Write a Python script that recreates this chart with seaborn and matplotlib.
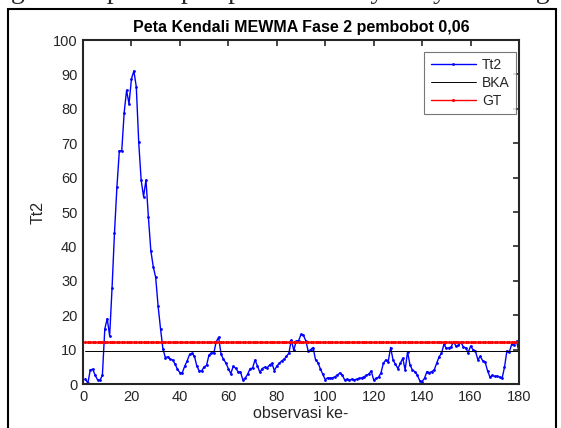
import numpy as np
import pandas as pd
import matplotlib
matplotlib.use("Agg")
import matplotlib.pyplot as plt
import seaborn as sns
from matplotlib.patches import Rectangle

# ---- data ----
obs = list(range(1, 181))
tt2 = [1.5, 0.2, 4.1, 4.3, 2.6, 1.2, 1.1, 2.5, 16.0, 19.0,
       14.0, 28.0, 44.0, 57.2, 67.8, 67.8, 78.9, 85.4, 81.4, 88.7,
       91.0, 86.4, 70.3, 59.3, 54.5, 59.3, 48.5, 38.8, 34.1, 31.0,
       22.7, 16.1, 10.2, 7.7, 7.9, 7.2, 7.0, 5.8, 4.3, 3.3,
       3.3, 5.2, 6.7, 8.6, 8.9, 8.1, 5.2, 3.8, 3.8, 5.0,
       5.4, 8.4, 9.0, 9.0, 12.3, 13.6, 8.6, 7.2, 6.1, 4.5,
       3.0, 5.1, 4.6, 3.6, 3.5, 1.2, 1.7, 2.9, 4.5, 4.6,
       7.0, 5.3, 3.4, 4.5, 4.9, 4.7, 5.5, 6.0, 3.9, 5.2,
       6.0, 6.7, 7.2, 8.0, 9.0, 12.8, 9.8, 12.4, 12.6, 14.4,
       14.2, 12.5, 9.5, 10.0, 10.6, 7.0, 6.2, 4.4, 2.8, 1.3,
       1.8, 1.7, 1.8, 2.1, 2.6, 3.2, 2.7, 1.2, 1.4, 1.1,
       1.4, 1.2, 1.4, 1.6, 1.8, 2.1, 2.5, 2.9, 3.8, 1.2,
       1.6, 2.0, 3.2, 6.0, 7.0, 6.5, 10.6, 7.0, 5.7, 4.5,
       6.0, 7.5, 4.1, 9.4, 5.5, 4.1, 3.6, 2.6, 1.0, 0.7,
       1.7, 3.6, 3.3, 3.6, 4.1, 6.0, 7.9, 8.9, 11.5, 10.4,
       10.5, 10.8, 12.3, 11.0, 11.2, 12.2, 10.8, 10.5, 9.1, 11.0,
       10.0, 9.6, 7.1, 8.0, 6.8, 6.4, 3.9, 2.0, 2.5, 2.2,
       2.3, 2.0, 1.6, 4.8, 9.6, 9.3, 11.6, 11.4, 12.4, 9.3]
bka_value = 9.7
gt_value = 12.1
bka = [bka_value] * len(obs)
gt = [gt_value] * len(obs)

title = "Peta Kendali MEWMA Fase 2 pembobot 0,06"
xlabel = "observasi ke-"
ylabel = "Tt2"
xticks = list(range(0, 181, 20))
yticks = list(range(0, 101, 10))
top_text = "ng dalam penerapan peta kendali yaitu yaitu dengan"

df = pd.DataFrame({"obs": obs, "Tt2": tt2, "BKA": bka, "GT": gt})

sns.set_style("white")
plt.rcParams["font.family"] = ["Liberation Sans", "DejaVu Sans"]

fig = plt.figure(figsize=(5.61, 4.28), dpi=100)
ax = fig.add_axes([83/561, 1-384/428, (519-83)/561, (384-40)/428])

sns.lineplot(data=df, x="obs", y="Tt2", ax=ax, color="#0000ff", lw=1.0,
             marker=".", markersize=4, markeredgewidth=0, label="Tt2",
             estimator=None, sort=False)
sns.lineplot(data=df, x="obs", y="BKA", ax=ax, color="black", lw=0.7,
             label="BKA", estimator=None, sort=False)
sns.lineplot(data=df, x="obs", y="GT", ax=ax, color="#ff0000", lw=1.0,
             marker=".", markersize=4.5, markeredgewidth=0, label="GT",
             estimator=None, sort=False)

ax.set_xlim(0, 180)
ax.set_ylim(0, 100)
ax.set_xticks(xticks)
ax.set_yticks(yticks)
ax.tick_params(direction="in", top=True, right=True, length=4, width=1.2,
               colors="#262626", labelsize=10.5, pad=4)
for s in ax.spines.values():
    s.set_linewidth(1.5)
    s.set_color("#262626")
ax.set_title(title, fontsize=11.5, fontweight="bold", color="black", pad=6)
ax.set_xlabel(xlabel, fontsize=11.5, color="#262626", labelpad=2)
ax.set_ylabel(ylabel, fontsize=11.5, color="#262626", labelpad=5)

leg = ax.legend(loc="upper right", bbox_to_anchor=(0.993, 0.965),
                frameon=True, fancybox=False, fontsize=10,
                handlelength=3.3, handletextpad=0.4, borderpad=0.45,
                labelspacing=0.28, borderaxespad=0.0)
leg.get_frame().set_edgecolor("#555555")
leg.get_frame().set_linewidth(0.8)

# document border and cut-off text line above the chart
fig.patches.append(Rectangle((8/561, -0.1), (556-8)/561, 1.1 - 9/428,
                             transform=fig.transFigure, fill=False,
                             edgecolor="black", lw=1.5))
fig.text(-0.005, 1 + 2/428, top_text,
         fontsize=20, family="Liberation Serif", va="baseline", ha="left")

fig.savefig("out.png", dpi=100)
